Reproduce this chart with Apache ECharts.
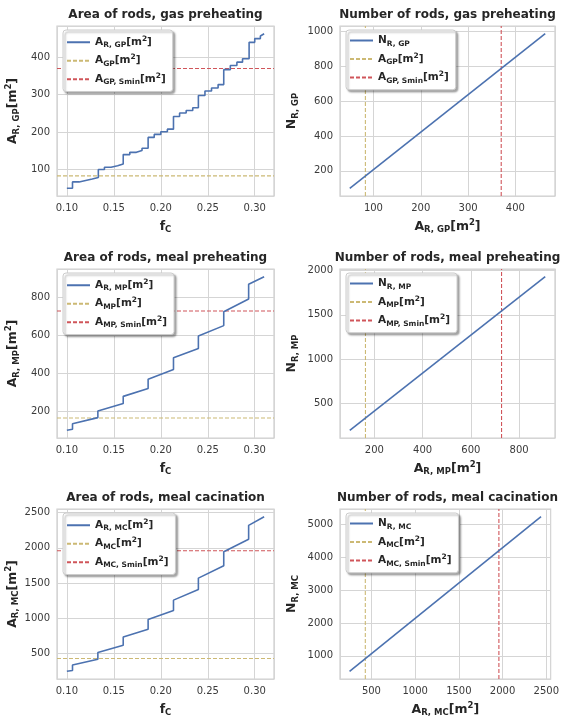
<!DOCTYPE html>
<html>
<head>
<meta charset="utf-8">
<script src="https://cdn.jsdelivr.net/npm/echarts@6/dist/echarts.min.js"></script>
<style>
  html, body { margin: 0; padding: 0; background: #fff; }
  #chart { width: 562px; height: 720px; }
</style>
</head>
<body>
<div id="chart"></div>
<script>
// values
// gas preheating: area of rods vs f_C (step curve)
var fcGP = [0.100, 0.106, 0.106, 0.113, 0.113, 0.120, 0.120, 0.127, 0.127, 0.1335,
            0.1335, 0.140, 0.140, 0.147, 0.147, 0.154, 0.154, 0.160,
            0.160, 0.167, 0.167, 0.174, 0.174, 0.180, 0.180, 0.1865,
            0.1865, 0.193, 0.193, 0.200, 0.200, 0.207, 0.207, 0.2135,
            0.2135, 0.220, 0.220, 0.227, 0.227, 0.234, 0.234, 0.240,
            0.240, 0.247, 0.247, 0.254, 0.254, 0.261, 0.261, 0.267,
            0.267, 0.274, 0.274, 0.281, 0.281, 0.287, 0.287, 0.294,
            0.294, 0.300, 0.300, 0.306, 0.306, 0.310];
var areaGP = [50, 50, 67, 67, 71, 71, 75, 75, 79, 79,
              100, 100, 106, 106, 110, 110, 115, 115,
              140, 140, 146, 146, 151, 151, 157, 157,
              186, 186, 194, 194, 201, 201, 208, 208,
              242, 242, 251, 251, 258, 258, 265, 265,
              298, 298, 310, 310, 318, 318, 327, 327,
              367, 367, 378, 378, 387, 387, 396, 396,
              440, 440, 450, 450, 457, 463];
// meal preheating
var fcMP = [0.100, 0.106, 0.106, 0.133, 0.133, 0.160, 0.160, 0.1865, 0.1865,
            0.2135, 0.2135, 0.240, 0.240, 0.267, 0.267, 0.2935, 0.2935, 0.310];
var areaMP = [98, 104, 133, 165, 200, 239, 277, 318, 367,
              418, 480, 530, 595, 650, 723, 790, 868, 908];
// meal cacination
var fcMC = [0.100, 0.106, 0.106, 0.133, 0.133, 0.160, 0.160, 0.1865, 0.1865,
            0.2135, 0.2135, 0.240, 0.240, 0.267, 0.267, 0.2935, 0.2935, 0.310];
var areaMC = [250, 262, 338, 420, 515, 620, 735, 845, 985,
              1112, 1258, 1410, 1570, 1745, 1945, 2120, 2318, 2440];

// number of rods vs area of rods
var rodAreaGP = [50, 463];   var rodsGP = [100, 988];
var rodAreaMP = [98, 908];   var rodsMP = [194, 1932];
var rodAreaMC = [250, 2440]; var rodsMC = [530, 5230];

// required areas [A, A_Smin]
var refGP = [83, 370];
var refMP = [163, 727];
var refMC = [430, 1958];

var rowTitles = ['gas preheating', 'meal preheating', 'meal cacination'];
var rowKeys = ['GP', 'MP', 'MC'];

var blue = '#4c72b0', yellow = '#ccb974', red = '#d0555a';
var ink = '#262626';

function sym(main, sub, unit) {
  var s = '{m|' + main + '}{s|' + sub + '}';
  if (unit) s += '{m|[m}{p|2}{m|]}';
  return s;
}
function richFor(size, subSize) {
  return {
    m: { fontFamily: 'DejaVu Sans', fontWeight: 'bold', fontSize: size, color: ink, lineHeight: size + 4 },
    s: { fontFamily: 'DejaVu Sans', fontWeight: 'bold', fontSize: subSize, color: ink, lineHeight: subSize + 1, verticalAlign: 'bottom' },
    p: { fontFamily: 'DejaVu Sans', fontWeight: 'bold', fontSize: subSize, color: ink, lineHeight: subSize + 1, verticalAlign: 'top' }
  };
}
// matplotlib-like 5% margins around the data
function padded(arr) {
  var lo = Math.min.apply(null, arr), hi = Math.max.apply(null, arr);
  var m = (hi - lo) * 0.05;
  return [lo - m, hi + m];
}

var rowsData = [
  { fc: fcGP, area: areaGP, a: rodAreaGP, n: rodsGP, ref: refGP },
  { fc: fcMP, area: areaMP, a: rodAreaMP, n: rodsMP, ref: refMP },
  { fc: fcMC, area: areaMC, a: rodAreaMC, n: rodsMC, ref: refMC }
];

var rowTop = [26, 269, 509];
var rowH = [170, 169, 170];
var colLeft = [57, 340];
var colW = [217, 215];

var grids = [], xAxes = [], yAxes = [], series = [], legends = [], titles = [];
var legendText = {};

function axisBase(ext, digits) {
  return {
    type: 'value',
    min: ext[0],
    max: ext[1],
    axisLine: { show: false },
    axisTick: { show: false },
    splitLine: { show: true, lineStyle: { color: '#d5d5d5', width: 1 } },
    axisLabel: {
      showMinLabel: false, showMaxLabel: false,
      color: '#3a3a3a', fontFamily: 'DejaVu Sans', fontSize: 10, margin: 7,
      formatter: function (v) { return v.toFixed(digits); }
    },
    nameLocation: 'middle',
    nameTextStyle: { rich: richFor(12.5, 8.5) }
  };
}

function refSeries(name, gi, color, pts) {
  return {
    name: name, type: 'line', xAxisIndex: gi, yAxisIndex: gi, z: 1,
    data: pts, symbol: 'none', silent: true,
    lineStyle: { color: color, width: 1.1, type: [4, 2] }, itemStyle: { color: color }
  };
}

rowsData.forEach(function (d, r) {
  var k = rowKeys[r];
  for (var c = 0; c < 2; c++) {
    var gi = r * 2 + c;
    grids.push({
      left: colLeft[c], top: rowTop[r], width: colW[c], height: rowH[r],
      show: true, borderColor: '#cfcfcf', borderWidth: 1.25, backgroundColor: '#fff'
    });
    titles.push({
      text: (c === 0 ? 'Area of rods, ' : 'Number of rods, ') + rowTitles[r],
      left: colLeft[c] + colW[c] / 2, top: rowTop[r] - 17, textAlign: 'center', padding: 0,
      textStyle: { fontFamily: 'DejaVu Sans', fontWeight: 'bold', fontSize: 12, color: ink }
    });
    var xs = c === 0 ? d.fc : d.a;
    var ys = c === 0 ? d.area : d.n;
    var xExt = padded(xs), yExt = padded(ys);
    var xa = axisBase(xExt, c === 0 ? 2 : 0), ya = axisBase(yExt, 0);
    xa.gridIndex = gi; ya.gridIndex = gi;
    xa.nameGap = 22;
    ya.nameGap = c === 0 ? 36 : 40;
    if (c === 1 && r === 1) ya.splitNumber = 4;
    var names, ref0, ref1;
    if (c === 0) {
      xa.name = sym('f', 'C', false);
      ya.name = sym('A', 'R, ' + k, true);
      names = ['A_R_' + k, 'A_' + k + '_L', 'A_' + k + 'S_L'];
      legendText[names[0]] = sym('A', 'R, ' + k, true);
      ref0 = [[xExt[0], d.ref[0]], [xExt[1], d.ref[0]]];
      ref1 = [[xExt[0], d.ref[1]], [xExt[1], d.ref[1]]];
    } else {
      xa.name = sym('A', 'R, ' + k, true);
      ya.name = sym('N', 'R, ' + k, false);
      names = ['N_R_' + k, 'A_' + k + '_R', 'A_' + k + 'S_R'];
      legendText[names[0]] = sym('N', 'R, ' + k, false);
      ref0 = [[d.ref[0], yExt[0]], [d.ref[0], yExt[1]]];
      ref1 = [[d.ref[1], yExt[0]], [d.ref[1], yExt[1]]];
    }
    series.push({
      name: names[0], type: 'line', xAxisIndex: gi, yAxisIndex: gi, z: 3,
      data: xs.map(function (x, j) { return [x, ys[j]]; }), symbol: 'none',
      lineStyle: { color: blue, width: 1.6 }, itemStyle: { color: blue }
    });
    series.push(refSeries(names[1], gi, yellow, ref0));
    series.push(refSeries(names[2], gi, red, ref1));
    legendText[names[1]] = sym('A', k, true);
    legendText[names[2]] = sym('A', k + ', Smin', true);
    xAxes.push(xa); yAxes.push(ya);
    legends.push({
      data: names, orient: 'vertical',
      left: colLeft[c] + 6, top: rowTop[r] + 4,
      itemWidth: 23, itemHeight: 13, itemGap: 4,
      padding: [5, 7, 5, 3],
      backgroundColor: '#fff', borderColor: '#cccccc', borderWidth: 1, borderRadius: 3,
      shadowColor: 'rgba(0,0,0,0.35)', shadowBlur: 2, shadowOffsetX: 2, shadowOffsetY: 2,
      selectedMode: false,
      itemStyle: { opacity: 0 },
      formatter: function (n) { return legendText[n]; },
      textStyle: { rich: richFor(10.5, 7.5) }
    });
  }
});

var chart = echarts.init(document.getElementById('chart'), null, { renderer: 'canvas' });
chart.setOption({
  animation: false,
  backgroundColor: '#fff',
  title: titles,
  grid: grids,
  xAxis: xAxes,
  yAxis: yAxes,
  legend: legends,
  series: series
});
</script>
</body>
</html>
